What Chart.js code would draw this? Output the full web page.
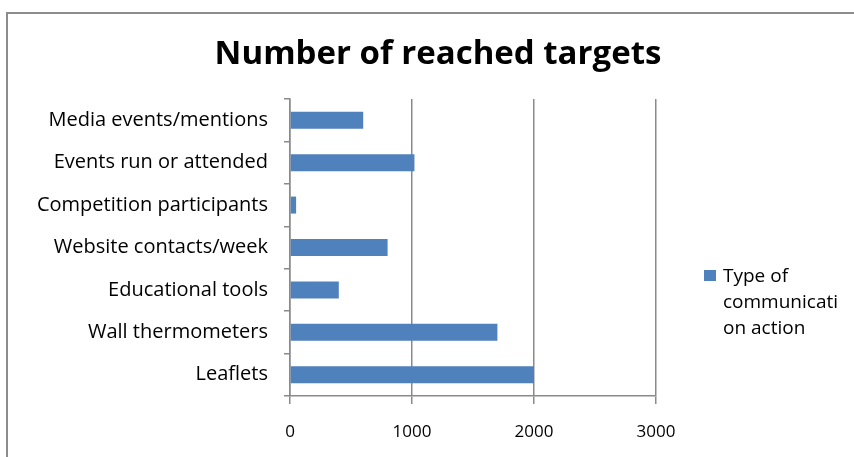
<!DOCTYPE html>
<html>
<head>
<meta charset="utf-8">
<script src="https://cdn.jsdelivr.net/npm/chart.js@4.4.1/dist/chart.umd.min.js"></script>
<style>
  html, body { margin: 0; padding: 0; background: #fff; overflow: hidden; }
  #wrap { position: relative; width: 854px; height: 457px; }
  #frame { position: absolute; left: 6px; top: 12px; width: 900px; height: 500px;
           border: 2px solid #8c8c8c; box-sizing: border-box; }
  #chart { position: absolute; left: 0; top: 0; }
</style>
</head>
<body>
<div id="wrap">
  <div id="frame"></div>
  <canvas id="chart" width="854" height="457"></canvas>
</div>
<script>
// data, top row first
var categories = ["Media events/mentions", "Events run or attended", "Competition participants",
    "Website contacts/week", "Educational tools", "Wall thermometers", "Leaflets"];
var reached = [600, 1020, 50, 800, 400, 1700, 2000];
var xTicks = [0, 1000, 2000, 3000];
var seriesName = "Type of communication action";
var chartTitle = "Number of reached targets";

var FONT = "'Open Sans', Lato, sans-serif";
var BAR = "#4f81bd";
var GRID = "#8a8a8a";

// split a string into lines no wider than maxW, breaking inside words if needed
function wrapText(ctx, text, maxW) {
    var lines = [], line = "";
    text.split(" ").forEach(function (w) {
        var test = line ? line + " " + w : w;
        if (ctx.measureText(test).width <= maxW) { line = test; return; }
        if (line) { lines.push(line); line = ""; }
        var piece = "";
        for (var c of w) {
            if (ctx.measureText(piece + c).width > maxW && piece) { lines.push(piece); piece = ""; }
            piece += c;
        }
        line = piece;
    });
    if (line) lines.push(line);
    return lines;
}

// title centred on the whole frame + legend at the right
var extras = {
    id: "extras",
    afterDraw: function (chart) {
        var ctx = chart.ctx;
        ctx.save();
        ctx.fillStyle = "#000";
        ctx.textAlign = "center";
        ctx.textBaseline = "alphabetic";
        ctx.font = "bold 33px " + FONT;
        ctx.fillText(chartTitle, 438, 64);

        ctx.textAlign = "left";
        ctx.font = "19px " + FONT;
        var lines = wrapText(ctx, seriesName, 124);
        ctx.fillStyle = BAR;
        ctx.fillRect(704, 270, 12, 11);
        ctx.fillStyle = "#000";
        lines.forEach(function (l, i) {
            ctx.fillText(l, 723, 282 + i * 26);
        });
        ctx.restore();
    }
};

var ctx = document.getElementById("chart");
var barChart = new Chart(ctx, {
    type: 'bar',
    data: {
        labels: categories,
        datasets: [{
            label: seriesName,
            data: reached,
            backgroundColor: BAR,
            barPercentage: 1,
            categoryPercentage: 0.4
        }]
    },
    options: {
        indexAxis: 'y',
        responsive: false,
        animation: false,
        layout: { padding: { left: 0, right: 198, top: 99, bottom: 0 } },
        plugins: {
            legend: { display: false },
            tooltip: { enabled: false },
            title: { display: false }
        },
        scales: {
            x: {
                min: 0, max: 3000,
                afterBuildTicks: function (s) { s.ticks = xTicks.map(function (v) { return { value: v }; }); },
                afterFit: function (s) { s.height = 61; },
                grid: { color: GRID, lineWidth: 1.5, tickLength: 8, drawTicks: true },
                border: { display: true, color: GRID, width: 1.5 },
                ticks: {
                    color: "#000", padding: 18, font: { family: FONT, size: 17 },
                    callback: function (v) { return String(v); }
                }
            },
            y: {
                afterFit: function (s) { s.width = 290; },
                grid: { drawOnChartArea: false, drawTicks: true, tickLength: 6, offset: true, color: GRID, lineWidth: 1.5 },
                border: { display: true, color: GRID, width: 1.5 },
                ticks: { color: "#000", padding: 16, font: { family: FONT, size: 20 } }
            }
        }
    },
    plugins: [extras]
});
</script>
</body>
</html>
